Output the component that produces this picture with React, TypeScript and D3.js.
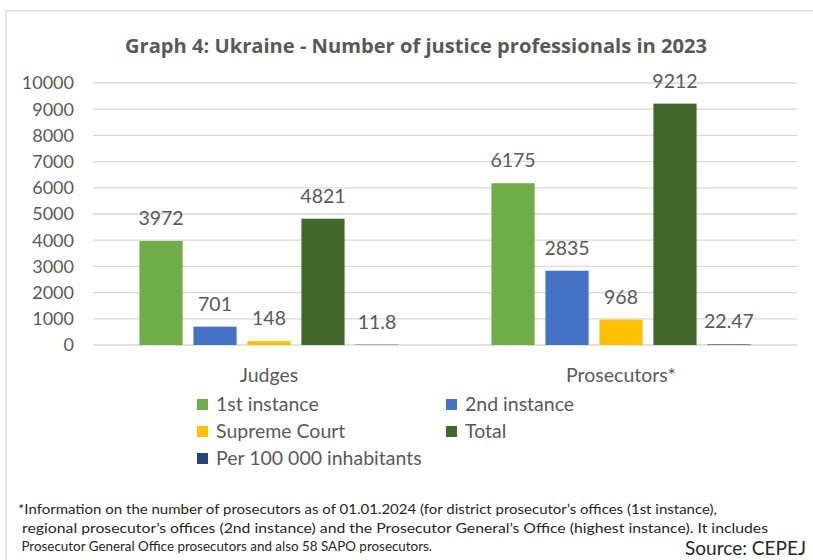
import React from "react";
import * as d3 from "d3";

const categories = ["Judges", "Prosecutors*"];
const seriesNames = ["1st instance", "2nd instance", "Supreme Court", "Total", "Per 100 000 inhabitants"];
const seriesColors = ["#70AD47", "#4472C4", "#FFC000", "#43682B", "#264478"];
const firstInstance = [3972, 6175];
const secondInstance = [701, 2835];
const supremeCourt = [148, 968];
const total = [4821, 9212];
const per100k = [11.8, 22.47];
const yTicks = [0, 1000, 2000, 3000, 4000, 5000, 6000, 7000, 8000, 9000, 10000];
const title = "Graph 4: Ukraine - Number of justice professionals in 2023";
const footnote = [
  "*Information on the number of prosecutors as of 01.01.2024 (for district prosecutor’s offices (1st instance),",
  " regional prosecutor’s offices (2nd instance) and the Prosecutor General’s Office (highest instance). It includes",
  " Prosecutor General Office prosecutors and also 58 SAPO prosecutors.",
];
const source = "Source: CEPEJ";

const W = 813;
const H = 560;
const plot = { left: 93, right: 797, top: 83, bottom: 345 };
const TXT = "#595959";
const FONT = "Lato, 'Open Sans', sans-serif";

export default function App() {
  const series = [firstInstance, secondInstance, supremeCourt, total, per100k];
  const x0 = d3.scaleBand<string>().domain(categories).range([plot.left, plot.right]).paddingInner(0).paddingOuter(0);
  const x1 = d3
    .scaleBand<string>()
    .domain(seriesNames)
    .range([0, x0.bandwidth()])
    .paddingInner(0.2)
    .paddingOuter(0.86);
  const y = d3.scaleLinear().domain([0, 10000]).range([plot.bottom, plot.top]);

  const legendItems = [
    { i: 0, x: 197, y: 404 },
    { i: 1, x: 446, y: 404 },
    { i: 2, x: 197, y: 431 },
    { i: 3, x: 446, y: 431 },
    { i: 4, x: 197, y: 458 },
  ];
  const footLens = [699, 750, 414];
  const footX = [18, 18, 18];

  return (
    <svg width={W} height={H} style={{ position: "absolute", left: 0, top: 0, display: "block" }}>
      <rect x={0} y={0} width={W} height={H} fill="#fff" />
      <rect x={6} y={11} width={W + 20} height={H + 20} fill="#fff" stroke="#D9D9D9" strokeWidth={1.3} />
      <text
        x={(125 + 707) / 2}
        y={53}
        textAnchor="middle"
        fontFamily="'Open Sans', sans-serif"
        fontWeight="bold"
        fontSize={20}
        fill={TXT}
        textLength={582}
        lengthAdjust="spacingAndGlyphs"
      >
        {title}
      </text>
      {yTicks.map((t) => (
        <g key={t}>
          <line x1={plot.left} x2={plot.right} y1={y(t)} y2={y(t)} stroke="#D9D9D9" strokeWidth={1.3} />
          <text x={74} y={y(t)} dy="0.35em" textAnchor="end" fontFamily={FONT} fontSize={18} fill={TXT}>
            {t}
          </text>
        </g>
      ))}
      {categories.map((c, ci) => (
        <g key={c}>
          {seriesNames.map((s, si) => {
            const v = series[si][ci];
            const bx = (x0(c) as number) + (x1(s) as number);
            return (
              <g key={s}>
                <rect x={bx} y={y(v)} width={x1.bandwidth()} height={y(0) - y(v)} fill={seriesColors[si]} />
                <text
                  x={bx + x1.bandwidth() / 2}
                  y={y(v) - 16}
                  textAnchor="middle"
                  fontFamily={FONT}
                  fontSize={19.5}
                  fill={TXT}
                >
                  {v}
                </text>
              </g>
            );
          })}
          <text
            x={(x0(c) as number) + x0.bandwidth() / 2}
            y={382}
            textAnchor="middle"
            fontFamily={FONT}
            fontSize={19.5}
            fill={TXT}
          >
            {c}
          </text>
        </g>
      ))}
      {legendItems.map((l) => (
        <g key={l.i}>
          <rect x={l.x} y={l.y - 5} width={11} height={11} fill={seriesColors[l.i]} />
          <text x={l.x + 19} y={l.y} dy="0.35em" fontFamily={FONT} fontSize={19.5} fill={TXT}>
            {seriesNames[l.i]}
          </text>
        </g>
      ))}
      {footnote.map((f, i) => (
        <text
          key={i}
          x={footX[i]}
          y={514 + i * 18.5}
          fontFamily={FONT}
          fontSize={13}
          fill="#262626"
          textLength={footLens[i]}
          lengthAdjust="spacingAndGlyphs"
          xmlSpace="preserve"
        >
          {f}
        </text>
      ))}
      <text x={685} y={555} fontFamily={FONT} fontSize={19} fill="#262626" textLength={121} lengthAdjust="spacingAndGlyphs">
        {source}
      </text>
    </svg>
  );
}
